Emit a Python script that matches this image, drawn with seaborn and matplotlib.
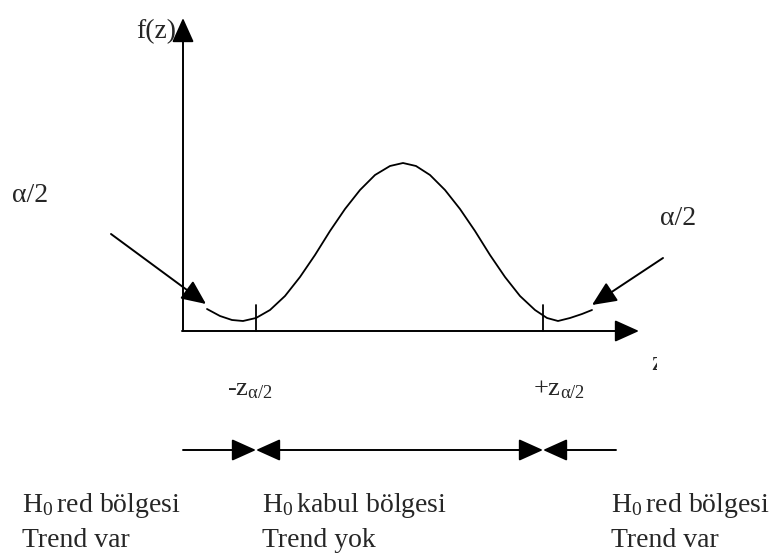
import numpy as np
import pandas as pd
import seaborn as sns
import matplotlib
matplotlib.use("Agg")
import matplotlib.pyplot as plt
from matplotlib.transforms import Bbox

# curve (pixel-like coords, y grows downwards)
curve_x = [207, 220, 232, 243, 256, 270, 285, 300, 315, 330, 345, 360, 375, 390, 403,
           416, 430, 445, 460, 475, 490, 505, 520, 535, 547, 558, 570, 582, 592]
curve_y = [309, 316, 320, 321, 318, 310, 296, 277, 255, 231, 209, 190, 175, 166, 163,
           166, 175, 190, 209, 231, 255, 277, 296, 310, 318, 321, 318, 314, 310]

crit_x = [256, 543]
crit_labels = ["-z$_{\\mathregular{α/2}}$", "+z$_{\\mathregular{α/2}}$"]
region_titles = ["H$_{\\mathregular{0}}\\,$red bölgesi", "H$_{\\mathregular{0}}\\,$kabul bölgesi",
                 "H$_{\\mathregular{0}}\\,$red bölgesi"]
region_trend = ["Trend var", "Trend yok", "Trend var"]
region_x = [22, 262, 611]

sns.set_style("white")
plt.rcParams['font.family'] = ['Liberation Serif', 'DejaVu Serif']
plt.rcParams['mathtext.fontset'] = 'stix'

fig = plt.figure(figsize=(7.69, 5.57), dpi=100)
ax = fig.add_axes([0, 0, 1, 1])

df = pd.DataFrame({'z': curve_x, 'f': curve_y})
sns.lineplot(data=df, x='z', y='f', sort=False, color='black', lw=1.3, ax=ax)
ax.set_xlim(0, 769)
ax.set_ylim(557, 0)
ax.axis('off')

axis_kw = dict(arrowstyle='-|>,head_length=1.0,head_width=0.45', color='black',
               lw=1.4, mutation_scale=15, shrinkA=0, shrinkB=0)
# y axis and z axis
ax.annotate('', xy=(183, 18), xytext=(183, 331), arrowprops=axis_kw)
ax.annotate('', xy=(639, 331), xytext=(182, 331), arrowprops=axis_kw)

# critical value ticks and labels
for x, lab in zip(crit_x, crit_labels):
    ax.plot([x, x], [305, 331], color='black', lw=1.3)
    ax.text(x - 29 if x < 400 else x - 10, 395, lab, fontsize=19, ha='left', va='baseline')

ax.text(176, 38, 'f(z)', fontsize=20, ha='right', va='baseline')
ztxt = ax.text(651, 370, 'z', fontsize=20, ha='left', va='baseline')
ztxt.set_clip_on(True)
ztxt.set_clip_box(Bbox.from_extents(0, 0, 657, 557))

# alpha/2 arrows
ax.text(12, 202, 'α/2', fontsize=20, ha='left', va='baseline')
ax.text(660, 225, 'α/2', fontsize=20, ha='left', va='baseline')
ax.annotate('', xy=(206, 304), xytext=(111, 234), arrowprops=axis_kw)
ax.annotate('', xy=(592, 305), xytext=(663, 258), arrowprops=axis_kw)

# region arrows
ax.annotate('', xy=(crit_x[0], 450), xytext=(183, 450), arrowprops=axis_kw)
ax.annotate('', xy=(crit_x[0], 450), xytext=(crit_x[1], 450),
            arrowprops=dict(axis_kw, arrowstyle='<|-|>,head_length=1.0,head_width=0.45'))
ax.annotate('', xy=(crit_x[1], 450), xytext=(616, 450), arrowprops=axis_kw)

for x, t1, t2 in zip(region_x, region_titles, region_trend):
    ax.text(x, 512, t1, fontsize=20, ha='left', va='baseline')
    ax.text(x, 547, t2, fontsize=20, ha='left', va='baseline')

fig.savefig('out.png', dpi=100)
